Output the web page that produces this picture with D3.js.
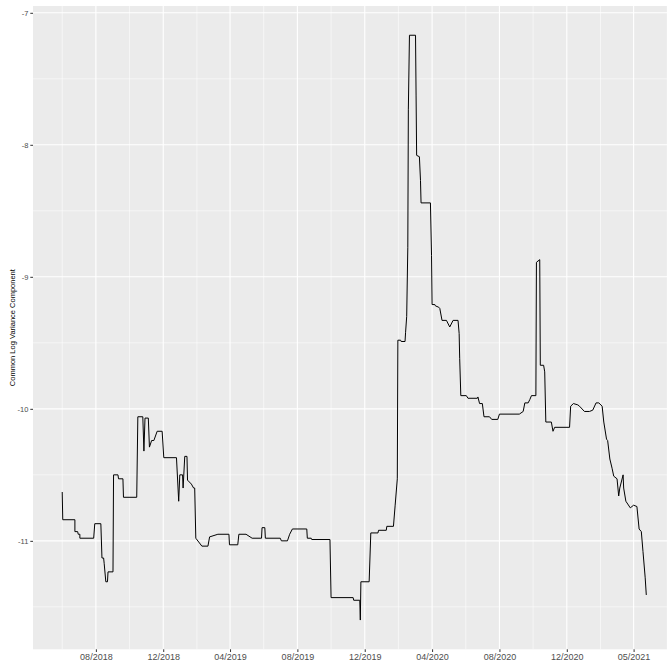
<!DOCTYPE html>
<html>
<head>
<meta charset="utf-8">
<script src="https://cdn.jsdelivr.net/npm/d3@7"></script>
<style>
  body { margin: 0; background: #fff; }
  svg { display: block; font-family: Arial, "Liberation Sans", sans-serif; }
</style>
</head>
<body>
<div id="chart"></div>
<script>
const startDate = "2018-06-01";

const dayOffsets = [
  0, 1, 23, 23, 28, 29, 32, 32, 57, 59, 70, 72, 75, 76, 79, 82, 83, 92, 93, 101,
  102, 110, 111, 135, 137, 146, 148, 150, 156, 158, 162, 166, 172, 181, 184, 207, 211, 213, 218, 219,
  222, 226, 227, 234, 238, 240, 242, 253, 264, 267, 282, 302, 303, 318, 320, 333, 344, 361, 362, 367,
  368, 395, 397, 408, 412, 417, 443, 444, 451, 452, 485, 487, 527, 528, 539, 540, 541, 556, 559, 572,
  573, 587, 588, 600, 603, 607, 608, 613, 614, 621, 622, 624, 626, 627, 629, 640, 641, 642, 647, 649,
  650, 667, 669, 670, 675, 676, 682, 684, 688, 696, 702, 708, 717, 719, 720, 722, 732, 735, 752, 753,
  756, 761, 764, 774, 778, 789, 792, 828, 835, 838, 844, 847, 850, 858, 859, 865, 866, 872, 874, 876,
  886, 889, 892, 919, 921, 926, 934, 937, 946, 955, 961, 967, 972, 978, 981, 986, 988, 992, 996, 999,
  1005, 1008, 1010, 1016, 1017, 1021, 1029, 1035, 1041, 1045, 1049, 1052, 1056, 1058
];

const logVariance = [
  -10.63, -10.84, -10.84, -10.93, -10.93, -10.95, -10.95, -10.98, -10.98, -10.87, -10.87, -11.13, -11.13, -11.17, -11.31, -11.31, -11.235, -11.235, -10.50, -10.50,
  -10.53, -10.53, -10.67, -10.67, -10.06, -10.06, -10.32, -10.07, -10.07, -10.29, -10.24, -10.24, -10.17, -10.17, -10.37, -10.37, -10.70, -10.50, -10.50, -10.60,
  -10.36, -10.36, -10.54, -10.57, -10.60, -10.60, -10.98, -11.04, -11.04, -10.97, -10.95, -10.95, -11.03, -11.03, -10.95, -10.95, -10.98, -10.98, -10.90, -10.90,
  -10.98, -10.98, -11.00, -11.00, -10.95, -10.91, -10.91, -10.98, -10.98, -10.99, -10.99, -11.43, -11.43, -11.45, -11.45, -11.60, -11.31, -11.31, -10.94, -10.94,
  -10.92, -10.92, -10.89, -10.89, -10.735, -10.53, -9.48, -9.48, -9.49, -9.49, -9.42, -9.30, -8.78, -7.73, -7.17, -7.17, -7.63, -8.08, -8.09, -8.27,
  -8.44, -8.44, -8.84, -9.21, -9.21, -9.22, -9.23, -9.24, -9.33, -9.33, -9.38, -9.33, -9.33, -9.43, -9.62, -9.90, -9.90, -9.92, -9.92, -9.91,
  -9.96, -9.96, -10.06, -10.06, -10.08, -10.08, -10.04, -10.04, -10.02, -9.955, -9.955, -9.93, -9.90, -9.90, -8.89, -8.87, -9.67, -9.67, -9.72, -10.10,
  -10.10, -10.17, -10.14, -10.14, -9.98, -9.96, -9.97, -9.98, -10.02, -10.02, -10.01, -9.955, -9.955, -9.98, -10.10, -10.23, -10.24, -10.38, -10.45, -10.51,
  -10.53, -10.66, -10.60, -10.50, -10.60, -10.70, -10.75, -10.73, -10.74, -10.91, -10.93, -11.08, -11.28, -11.41
];

const xTickDates = ["2018-08-01", "2018-12-01", "2019-04-01", "2019-08-01", "2019-12-01",
                    "2020-04-01", "2020-08-01", "2020-12-01", "2021-04-01"];
const xTickLabels = ["08/2018", "12/2018", "04/2019", "08/2019", "12/2019",
                     "04/2020", "08/2020", "12/2020", "05/2021"];
const yTicks = [-11, -10, -9, -8, -7];
const yTitle = "Common Log Variance Component";

const width = 667;
const height = 663;
const panel = { left: 33, top: 6, right: 675.5, bottom: 649.3 };

const parse = d3.timeParse("%Y-%m-%d");
const start = parse(startDate);
const data = dayOffsets.map((d, i) => ({ date: d3.timeDay.offset(start, d), value: logVariance[i] }));

// ggplot-style 5% expansion on both axes
const xExt = d3.extent(data, d => d.date);
const xPad = (xExt[1] - xExt[0]) * 0.05;
const x = d3.scaleTime()
    .domain([new Date(+xExt[0] - xPad), new Date(+xExt[1] + xPad)])
    .range([panel.left, panel.right]);

const yExt = d3.extent(data, d => d.value);
const yPad = (yExt[1] - yExt[0]) * 0.05;
const y = d3.scaleLinear()
    .domain([yExt[0] - yPad, yExt[1] + yPad])
    .range([panel.bottom, panel.top]);

const svg = d3.select("#chart").append("svg")
    .attr("width", width)
    .attr("height", height);

svg.append("rect")
    .attr("x", panel.left)
    .attr("y", panel.top)
    .attr("width", panel.right - panel.left)
    .attr("height", panel.bottom - panel.top)
    .attr("fill", "#ebebeb");

const xTicks = xTickDates.map(parse);
const xMajor = xTicks.map(x);
const step = xMajor[1] - xMajor[0];
const xMinor = [xMajor[0] - step / 2].concat(xMajor.map(v => v + step / 2))
    .filter(v => v > panel.left && v < panel.right);

const yMinor = [yTicks[0] - 0.5].concat(yTicks.map(v => v + 0.5))
    .filter(v => y(v) > panel.top && y(v) < panel.bottom);

const grid = svg.append("g");

grid.selectAll(".yminor")
    .data(yMinor)
    .join("line")
    .attr("x1", panel.left).attr("x2", panel.right)
    .attr("y1", d => y(d)).attr("y2", d => y(d))
    .attr("stroke", "#fff").attr("stroke-width", 0.55);

grid.selectAll(".xminor")
    .data(xMinor)
    .join("line")
    .attr("x1", d => d).attr("x2", d => d)
    .attr("y1", panel.top).attr("y2", panel.bottom)
    .attr("stroke", "#fff").attr("stroke-width", 0.55);

grid.selectAll(".ymajor")
    .data(yTicks)
    .join("line")
    .attr("x1", panel.left).attr("x2", panel.right)
    .attr("y1", d => y(d)).attr("y2", d => y(d))
    .attr("stroke", "#fff").attr("stroke-width", 1.1);

grid.selectAll(".xmajor")
    .data(xMajor)
    .join("line")
    .attr("x1", d => d).attr("x2", d => d)
    .attr("y1", panel.top).attr("y2", panel.bottom)
    .attr("stroke", "#fff").attr("stroke-width", 1.1);

const line = d3.line()
    .x(d => x(d.date))
    .y(d => y(d.value));

svg.append("path")
    .datum(data)
    .attr("d", line)
    .attr("fill", "none")
    .attr("stroke", "#000")
    .attr("stroke-width", 1)
    .attr("stroke-linejoin", "round");

// axes
const xAxis = svg.append("g")
    .attr("transform", `translate(0,${panel.bottom})`)
    .call(d3.axisBottom(x)
        .tickValues(xTicks)
        .tickFormat((d, i) => xTickLabels[i])
        .tickSize(2.7)
        .tickPadding(2));
xAxis.select(".domain").remove();
xAxis.selectAll("line").attr("stroke", "#333");
xAxis.selectAll("text")
    .attr("fill", "#4d4d4d")
    .style("font-size", "9px");

const yAxis = svg.append("g")
    .attr("transform", `translate(${panel.left},0)`)
    .call(d3.axisLeft(y)
        .tickValues(yTicks)
        .tickFormat(d3.format("d"))
        .tickSize(2.7)
        .tickPadding(2));
yAxis.select(".domain").remove();
yAxis.selectAll("line").attr("stroke", "#333");
yAxis.selectAll("text")
    .attr("fill", "#4d4d4d")
    .style("font-size", "7.5px")
    .text(d => String(d).replace("-", "-"));

svg.append("text")
    .attr("transform", `translate(15,${(panel.top + panel.bottom) / 2}) rotate(-90)`)
    .attr("text-anchor", "middle")
    .style("font-size", "7.5px")
    .attr("fill", "#000")
    .text(yTitle);
</script>
</body>
</html>
